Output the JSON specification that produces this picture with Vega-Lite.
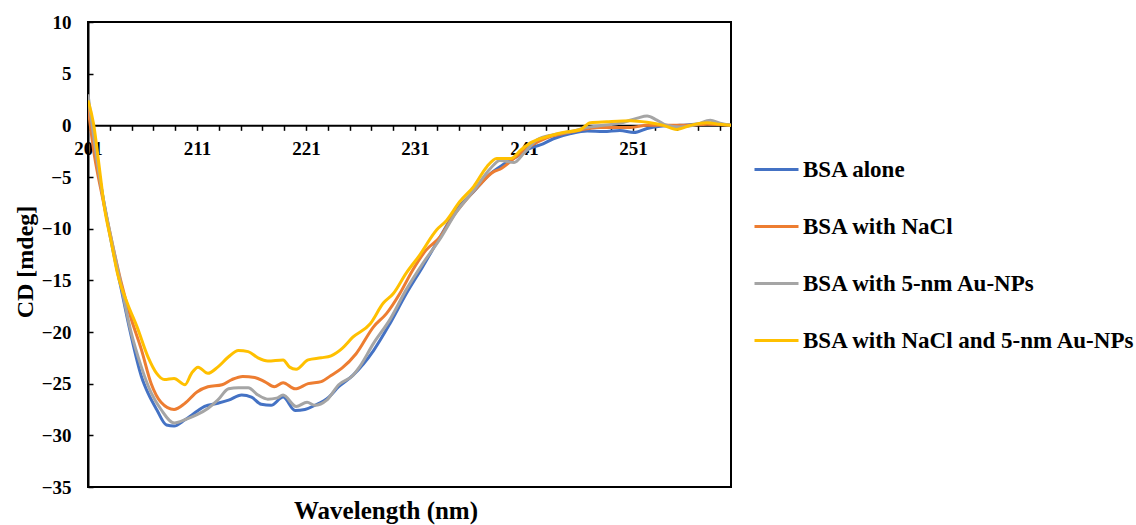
{
  "$schema": "https://vega.github.io/schema/vega-lite/v6.json",
  "width": 643,
  "height": 465,
  "autosize": {"type": "none"},
  "padding": {"left": 88, "top": 22, "right": 405, "bottom": 38},
  "background": "white",
  "datasets": {
    "cd": [
      {"s": "BSA alone", "w": 201, "v": 2.0},
      {"s": "BSA alone", "w": 201.6, "v": -2.1},
      {"s": "BSA alone", "w": 202.2, "v": -5.9},
      {"s": "BSA alone", "w": 203.1, "v": -11.1},
      {"s": "BSA alone", "w": 204.0, "v": -15.6},
      {"s": "BSA alone", "w": 204.9, "v": -20.1},
      {"s": "BSA alone", "w": 205.9, "v": -24.3},
      {"s": "BSA alone", "w": 206.5, "v": -25.9},
      {"s": "BSA alone", "w": 207.3, "v": -27.5},
      {"s": "BSA alone", "w": 208.2, "v": -29.0},
      {"s": "BSA alone", "w": 208.9, "v": -29.1},
      {"s": "BSA alone", "w": 209.9, "v": -28.5},
      {"s": "BSA alone", "w": 211.1, "v": -27.6},
      {"s": "BSA alone", "w": 211.7, "v": -27.2},
      {"s": "BSA alone", "w": 212.9, "v": -26.9},
      {"s": "BSA alone", "w": 213.9, "v": -26.6},
      {"s": "BSA alone", "w": 215.1, "v": -26.1},
      {"s": "BSA alone", "w": 216.0, "v": -26.3},
      {"s": "BSA alone", "w": 216.9, "v": -27.0},
      {"s": "BSA alone", "w": 217.8, "v": -27.1},
      {"s": "BSA alone", "w": 218.9, "v": -26.3},
      {"s": "BSA alone", "w": 220.0, "v": -27.6},
      {"s": "BSA alone", "w": 220.9, "v": -27.5},
      {"s": "BSA alone", "w": 221.8, "v": -27.1},
      {"s": "BSA alone", "w": 223.1, "v": -26.3},
      {"s": "BSA alone", "w": 224.0, "v": -25.3},
      {"s": "BSA alone", "w": 225.3, "v": -24.2},
      {"s": "BSA alone", "w": 227.2, "v": -21.8},
      {"s": "BSA alone", "w": 228.7, "v": -19.2},
      {"s": "BSA alone", "w": 230.2, "v": -16.3},
      {"s": "BSA alone", "w": 231.7, "v": -13.7},
      {"s": "BSA alone", "w": 233.3, "v": -10.8},
      {"s": "BSA alone", "w": 234.8, "v": -8.2},
      {"s": "BSA alone", "w": 236.4, "v": -6.4},
      {"s": "BSA alone", "w": 237.9, "v": -4.7},
      {"s": "BSA alone", "w": 239.1, "v": -3.8},
      {"s": "BSA alone", "w": 240.4, "v": -3.0},
      {"s": "BSA alone", "w": 241.6, "v": -2.2},
      {"s": "BSA alone", "w": 242.5, "v": -1.9},
      {"s": "BSA alone", "w": 243.7, "v": -1.3},
      {"s": "BSA alone", "w": 245.3, "v": -0.8},
      {"s": "BSA alone", "w": 246.8, "v": -0.55},
      {"s": "BSA alone", "w": 248.3, "v": -0.6},
      {"s": "BSA alone", "w": 249.8, "v": -0.5},
      {"s": "BSA alone", "w": 251.1, "v": -0.7},
      {"s": "BSA alone", "w": 252.3, "v": -0.3},
      {"s": "BSA alone", "w": 253.5, "v": -0.1},
      {"s": "BSA alone", "w": 255.3, "v": 0.0},
      {"s": "BSA alone", "w": 257.8, "v": 0.15},
      {"s": "BSA alone", "w": 260, "v": 0.0},

      {"s": "BSA with NaCl", "w": 201, "v": 1.8},
      {"s": "BSA with NaCl", "w": 201.6, "v": -3.0},
      {"s": "BSA with NaCl", "w": 202.2, "v": -6.3},
      {"s": "BSA with NaCl", "w": 203.1, "v": -10.8},
      {"s": "BSA with NaCl", "w": 204.0, "v": -15.0},
      {"s": "BSA with NaCl", "w": 204.9, "v": -18.5},
      {"s": "BSA with NaCl", "w": 205.9, "v": -21.7},
      {"s": "BSA with NaCl", "w": 206.8, "v": -25.0},
      {"s": "BSA with NaCl", "w": 207.7, "v": -26.8},
      {"s": "BSA with NaCl", "w": 208.9, "v": -27.5},
      {"s": "BSA with NaCl", "w": 209.9, "v": -26.9},
      {"s": "BSA with NaCl", "w": 211.0, "v": -25.8},
      {"s": "BSA with NaCl", "w": 212.0, "v": -25.3},
      {"s": "BSA with NaCl", "w": 213.3, "v": -25.1},
      {"s": "BSA with NaCl", "w": 214.2, "v": -24.6},
      {"s": "BSA with NaCl", "w": 215.2, "v": -24.3},
      {"s": "BSA with NaCl", "w": 216.3, "v": -24.4},
      {"s": "BSA with NaCl", "w": 217.2, "v": -24.8},
      {"s": "BSA with NaCl", "w": 218.1, "v": -25.3},
      {"s": "BSA with NaCl", "w": 218.9, "v": -24.9},
      {"s": "BSA with NaCl", "w": 220.0, "v": -25.5},
      {"s": "BSA with NaCl", "w": 221.2, "v": -25.0},
      {"s": "BSA with NaCl", "w": 222.4, "v": -24.8},
      {"s": "BSA with NaCl", "w": 223.3, "v": -24.2},
      {"s": "BSA with NaCl", "w": 224.3, "v": -23.5},
      {"s": "BSA with NaCl", "w": 225.6, "v": -22.1},
      {"s": "BSA with NaCl", "w": 227.2, "v": -19.5},
      {"s": "BSA with NaCl", "w": 228.4, "v": -18.2},
      {"s": "BSA with NaCl", "w": 229.6, "v": -16.3},
      {"s": "BSA with NaCl", "w": 230.8, "v": -14.0},
      {"s": "BSA with NaCl", "w": 232.0, "v": -12.1},
      {"s": "BSA with NaCl", "w": 233.3, "v": -10.8},
      {"s": "BSA with NaCl", "w": 234.5, "v": -8.8},
      {"s": "BSA with NaCl", "w": 235.7, "v": -7.2},
      {"s": "BSA with NaCl", "w": 236.9, "v": -5.8},
      {"s": "BSA with NaCl", "w": 238.2, "v": -4.5},
      {"s": "BSA with NaCl", "w": 238.8, "v": -4.25},
      {"s": "BSA with NaCl", "w": 240.1, "v": -3.2},
      {"s": "BSA with NaCl", "w": 241.6, "v": -2.0},
      {"s": "BSA with NaCl", "w": 243.1, "v": -1.2},
      {"s": "BSA with NaCl", "w": 244.6, "v": -0.8},
      {"s": "BSA with NaCl", "w": 246.2, "v": -0.45},
      {"s": "BSA with NaCl", "w": 247.7, "v": -0.2},
      {"s": "BSA with NaCl", "w": 249.2, "v": -0.2},
      {"s": "BSA with NaCl", "w": 250.8, "v": -0.2},
      {"s": "BSA with NaCl", "w": 252.3, "v": 0.0},
      {"s": "BSA with NaCl", "w": 254.1, "v": 0.0},
      {"s": "BSA with NaCl", "w": 256.0, "v": 0.0},
      {"s": "BSA with NaCl", "w": 257.8, "v": 0.1},
      {"s": "BSA with NaCl", "w": 260, "v": 0.0},

      {"s": "BSA with 5-nm Au-NPs", "w": 201, "v": 3.0},
      {"s": "BSA with 5-nm Au-NPs", "w": 201.6, "v": -1.7},
      {"s": "BSA with 5-nm Au-NPs", "w": 202.2, "v": -5.9},
      {"s": "BSA with 5-nm Au-NPs", "w": 203.1, "v": -10.8},
      {"s": "BSA with 5-nm Au-NPs", "w": 204.0, "v": -15.3},
      {"s": "BSA with 5-nm Au-NPs", "w": 204.9, "v": -19.8},
      {"s": "BSA with 5-nm Au-NPs", "w": 205.9, "v": -23.4},
      {"s": "BSA with 5-nm Au-NPs", "w": 206.8, "v": -25.9},
      {"s": "BSA with 5-nm Au-NPs", "w": 207.7, "v": -27.5},
      {"s": "BSA with 5-nm Au-NPs", "w": 208.9, "v": -28.8},
      {"s": "BSA with 5-nm Au-NPs", "w": 210.1, "v": -28.4},
      {"s": "BSA with 5-nm Au-NPs", "w": 211.0, "v": -28.0},
      {"s": "BSA with 5-nm Au-NPs", "w": 212.0, "v": -27.4},
      {"s": "BSA with 5-nm Au-NPs", "w": 212.9, "v": -26.6},
      {"s": "BSA with 5-nm Au-NPs", "w": 213.9, "v": -25.5},
      {"s": "BSA with 5-nm Au-NPs", "w": 214.8, "v": -25.4},
      {"s": "BSA with 5-nm Au-NPs", "w": 215.7, "v": -25.4},
      {"s": "BSA with 5-nm Au-NPs", "w": 216.6, "v": -26.1},
      {"s": "BSA with 5-nm Au-NPs", "w": 217.5, "v": -26.5},
      {"s": "BSA with 5-nm Au-NPs", "w": 218.3, "v": -26.4},
      {"s": "BSA with 5-nm Au-NPs", "w": 218.9, "v": -26.1},
      {"s": "BSA with 5-nm Au-NPs", "w": 220.1, "v": -27.2},
      {"s": "BSA with 5-nm Au-NPs", "w": 221.1, "v": -26.8},
      {"s": "BSA with 5-nm Au-NPs", "w": 221.8, "v": -27.1},
      {"s": "BSA with 5-nm Au-NPs", "w": 222.9, "v": -26.6},
      {"s": "BSA with 5-nm Au-NPs", "w": 224.0, "v": -25.1},
      {"s": "BSA with 5-nm Au-NPs", "w": 225.3, "v": -24.2},
      {"s": "BSA with 5-nm Au-NPs", "w": 225.9, "v": -23.4},
      {"s": "BSA with 5-nm Au-NPs", "w": 227.2, "v": -21.1},
      {"s": "BSA with 5-nm Au-NPs", "w": 228.7, "v": -18.8},
      {"s": "BSA with 5-nm Au-NPs", "w": 230.2, "v": -15.9},
      {"s": "BSA with 5-nm Au-NPs", "w": 231.7, "v": -13.4},
      {"s": "BSA with 5-nm Au-NPs", "w": 233.3, "v": -11.0},
      {"s": "BSA with 5-nm Au-NPs", "w": 234.8, "v": -8.4},
      {"s": "BSA with 5-nm Au-NPs", "w": 236.4, "v": -6.3},
      {"s": "BSA with 5-nm Au-NPs", "w": 237.9, "v": -4.2},
      {"s": "BSA with 5-nm Au-NPs", "w": 238.8, "v": -3.4},
      {"s": "BSA with 5-nm Au-NPs", "w": 240.1, "v": -3.6},
      {"s": "BSA with 5-nm Au-NPs", "w": 241.0, "v": -2.7},
      {"s": "BSA with 5-nm Au-NPs", "w": 242.2, "v": -1.4},
      {"s": "BSA with 5-nm Au-NPs", "w": 243.7, "v": -0.9},
      {"s": "BSA with 5-nm Au-NPs", "w": 245.3, "v": -0.6},
      {"s": "BSA with 5-nm Au-NPs", "w": 246.8, "v": -0.2},
      {"s": "BSA with 5-nm Au-NPs", "w": 248.3, "v": 0.0},
      {"s": "BSA with 5-nm Au-NPs", "w": 249.8, "v": 0.2},
      {"s": "BSA with 5-nm Au-NPs", "w": 251.4, "v": 0.7},
      {"s": "BSA with 5-nm Au-NPs", "w": 252.3, "v": 0.9},
      {"s": "BSA with 5-nm Au-NPs", "w": 253.2, "v": 0.5},
      {"s": "BSA with 5-nm Au-NPs", "w": 254.1, "v": 0.0},
      {"s": "BSA with 5-nm Au-NPs", "w": 255.3, "v": -0.15},
      {"s": "BSA with 5-nm Au-NPs", "w": 256.9, "v": 0.1},
      {"s": "BSA with 5-nm Au-NPs", "w": 258.1, "v": 0.5},
      {"s": "BSA with 5-nm Au-NPs", "w": 259.0, "v": 0.2},
      {"s": "BSA with 5-nm Au-NPs", "w": 260, "v": 0.0},

      {"s": "BSA with NaCl and 5-nm Au-NPs", "w": 201, "v": 2.4},
      {"s": "BSA with NaCl and 5-nm Au-NPs", "w": 201.5, "v": 0.2},
      {"s": "BSA with NaCl and 5-nm Au-NPs", "w": 202.1, "v": -4.6},
      {"s": "BSA with NaCl and 5-nm Au-NPs", "w": 202.5, "v": -7.9},
      {"s": "BSA with NaCl and 5-nm Au-NPs", "w": 203.1, "v": -11.1},
      {"s": "BSA with NaCl and 5-nm Au-NPs", "w": 203.7, "v": -14.3},
      {"s": "BSA with NaCl and 5-nm Au-NPs", "w": 204.6, "v": -17.2},
      {"s": "BSA with NaCl and 5-nm Au-NPs", "w": 205.5, "v": -19.5},
      {"s": "BSA with NaCl and 5-nm Au-NPs", "w": 206.5, "v": -22.4},
      {"s": "BSA with NaCl and 5-nm Au-NPs", "w": 207.3, "v": -24.0},
      {"s": "BSA with NaCl and 5-nm Au-NPs", "w": 208.0, "v": -24.6},
      {"s": "BSA with NaCl and 5-nm Au-NPs", "w": 208.9, "v": -24.5},
      {"s": "BSA with NaCl and 5-nm Au-NPs", "w": 209.9, "v": -25.1},
      {"s": "BSA with NaCl and 5-nm Au-NPs", "w": 210.5, "v": -24.0},
      {"s": "BSA with NaCl and 5-nm Au-NPs", "w": 211.1, "v": -23.4},
      {"s": "BSA with NaCl and 5-nm Au-NPs", "w": 212.0, "v": -24.0},
      {"s": "BSA with NaCl and 5-nm Au-NPs", "w": 212.9, "v": -23.4},
      {"s": "BSA with NaCl and 5-nm Au-NPs", "w": 213.9, "v": -22.4},
      {"s": "BSA with NaCl and 5-nm Au-NPs", "w": 214.8, "v": -21.8},
      {"s": "BSA with NaCl and 5-nm Au-NPs", "w": 215.7, "v": -21.9},
      {"s": "BSA with NaCl and 5-nm Au-NPs", "w": 216.6, "v": -22.5},
      {"s": "BSA with NaCl and 5-nm Au-NPs", "w": 217.5, "v": -22.8},
      {"s": "BSA with NaCl and 5-nm Au-NPs", "w": 218.9, "v": -22.7},
      {"s": "BSA with NaCl and 5-nm Au-NPs", "w": 219.5, "v": -23.4},
      {"s": "BSA with NaCl and 5-nm Au-NPs", "w": 220.1, "v": -23.6},
      {"s": "BSA with NaCl and 5-nm Au-NPs", "w": 221.2, "v": -22.7},
      {"s": "BSA with NaCl and 5-nm Au-NPs", "w": 222.4, "v": -22.5},
      {"s": "BSA with NaCl and 5-nm Au-NPs", "w": 223.3, "v": -22.3},
      {"s": "BSA with NaCl and 5-nm Au-NPs", "w": 224.3, "v": -21.6},
      {"s": "BSA with NaCl and 5-nm Au-NPs", "w": 225.3, "v": -20.5},
      {"s": "BSA with NaCl and 5-nm Au-NPs", "w": 226.9, "v": -19.2},
      {"s": "BSA with NaCl and 5-nm Au-NPs", "w": 228.1, "v": -17.2},
      {"s": "BSA with NaCl and 5-nm Au-NPs", "w": 229.0, "v": -16.3},
      {"s": "BSA with NaCl and 5-nm Au-NPs", "w": 230.2, "v": -14.3},
      {"s": "BSA with NaCl and 5-nm Au-NPs", "w": 231.4, "v": -12.6},
      {"s": "BSA with NaCl and 5-nm Au-NPs", "w": 233.0, "v": -10.1},
      {"s": "BSA with NaCl and 5-nm Au-NPs", "w": 233.9, "v": -9.2},
      {"s": "BSA with NaCl and 5-nm Au-NPs", "w": 235.1, "v": -7.4},
      {"s": "BSA with NaCl and 5-nm Au-NPs", "w": 236.4, "v": -5.9},
      {"s": "BSA with NaCl and 5-nm Au-NPs", "w": 237.6, "v": -4.0},
      {"s": "BSA with NaCl and 5-nm Au-NPs", "w": 238.5, "v": -3.2},
      {"s": "BSA with NaCl and 5-nm Au-NPs", "w": 239.8, "v": -3.2},
      {"s": "BSA with NaCl and 5-nm Au-NPs", "w": 240.7, "v": -2.4},
      {"s": "BSA with NaCl and 5-nm Au-NPs", "w": 241.6, "v": -1.7},
      {"s": "BSA with NaCl and 5-nm Au-NPs", "w": 243.1, "v": -1.1},
      {"s": "BSA with NaCl and 5-nm Au-NPs", "w": 244.6, "v": -0.7},
      {"s": "BSA with NaCl and 5-nm Au-NPs", "w": 246.2, "v": -0.4},
      {"s": "BSA with NaCl and 5-nm Au-NPs", "w": 247.1, "v": 0.25},
      {"s": "BSA with NaCl and 5-nm Au-NPs", "w": 248.6, "v": 0.35},
      {"s": "BSA with NaCl and 5-nm Au-NPs", "w": 250.8, "v": 0.45},
      {"s": "BSA with NaCl and 5-nm Au-NPs", "w": 252.3, "v": 0.3},
      {"s": "BSA with NaCl and 5-nm Au-NPs", "w": 253.8, "v": 0.0},
      {"s": "BSA with NaCl and 5-nm Au-NPs", "w": 255.0, "v": -0.4},
      {"s": "BSA with NaCl and 5-nm Au-NPs", "w": 256.3, "v": 0.0},
      {"s": "BSA with NaCl and 5-nm Au-NPs", "w": 257.8, "v": 0.25},
      {"s": "BSA with NaCl and 5-nm Au-NPs", "w": 259.0, "v": 0.1},
      {"s": "BSA with NaCl and 5-nm Au-NPs", "w": 260, "v": 0.0}
    ]
  },
  "data": {"name": "cd"},
  "mark": {"type": "line", "interpolate": "monotone", "strokeWidth": 3, "clip": true},
  "encoding": {
    "x": {
      "field": "w",
      "type": "quantitative",
      "scale": {"domain": [201, 260], "nice": false, "zero": false},
      "axis": {
        "orient": "bottom",
        "offset": -361.67,
        "values": [201, 203, 205, 207, 209, 211, 213, 215, 217, 219, 221, 223, 225, 227, 229, 231, 233, 235, 237, 239, 241, 243, 245, 247, 249, 251, 253, 255, 257, 259],
        "labelExpr": "(datum.value - 201) % 10 == 0 ? datum.label : ''",
        "labelFlush": false,
        "labelOverlap": false,
        "labelBound": false,
        "grid": false,
        "domainColor": "black",
        "domainWidth": 2,
        "tickColor": "black",
        "tickWidth": 1.5,
        "tickSize": 5,
        "labelPadding": 9,
        "labelFont": "Liberation Serif",
        "labelFontSize": 19,
        "labelFontWeight": "bold",
        "labelColor": "black",
        "title": "Wavelength (nm)",
        "titleFont": "Liberation Serif",
        "titleFontSize": 25,
        "titleFontWeight": "bold",
        "titleColor": "black",
        "titleAlign": "center",
        "titleBaseline": "alphabetic",
        "titleAnchor": "start",
        "titleX": 297.5,
        "titleY": 393
      }
    },
    "y": {
      "field": "v",
      "type": "quantitative",
      "scale": {"domain": [-35, 10], "nice": false, "zero": false},
      "axis": {
        "values": [-35, -30, -25, -20, -15, -10, -5, 0, 5, 10],
        "grid": false,
        "domainColor": "black",
        "domainWidth": 2,
        "tickColor": "black",
        "tickWidth": 1.5,
        "tickSize": -5,
        "labelPadding": 22,
        "labelFont": "Liberation Serif",
        "labelFontSize": 19,
        "labelFontWeight": "bold",
        "labelColor": "black",
        "title": "CD [mdeg]",
        "titleFont": "Liberation Serif",
        "titleFontSize": 24,
        "titleFontWeight": "bold",
        "titleColor": "black",
        "titleAngle": 270,
        "titleAlign": "center",
        "titleBaseline": "middle",
        "titleAnchor": "start",
        "titleX": -63,
        "titleY": 239.5
      }
    },
    "color": {
      "field": "s",
      "type": "nominal",
      "scale": {
        "domain": ["BSA alone", "BSA with NaCl", "BSA with 5-nm Au-NPs", "BSA with NaCl and 5-nm Au-NPs"],
        "range": ["#4472C4", "#ED7D31", "#A5A5A5", "#FFC000"]
      },
      "legend": {
        "title": null,
        "orient": "none",
        "legendX": 665,
        "legendY": 124,
        "symbolType": "stroke",
        "symbolSize": 1936,
        "symbolStrokeWidth": 3,
        "labelFont": "Liberation Serif",
        "labelFontSize": 23,
        "labelFontWeight": "bold",
        "labelColor": "black",
        "labelOffset": 3,
        "labelLimit": 500,
        "rowPadding": 21,
        "padding": 0
      }
    }
  },
  "config": {
    "view": {"stroke": "black", "strokeWidth": 2}
  }
}
